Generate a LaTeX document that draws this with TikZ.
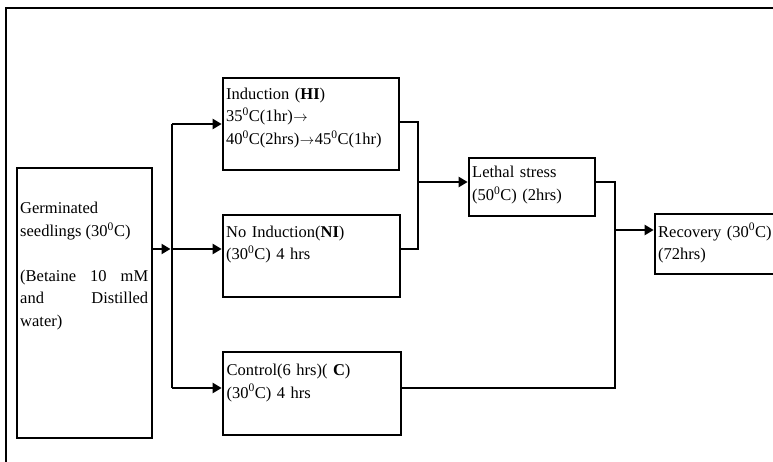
\documentclass[tikz,border=0pt]{standalone}
\usepackage{fontspec}
\setmainfont{Liberation Serif}
\usetikzlibrary{arrows.meta}
\newcommand{\rarr}{\kern0.5pt{\fontsize{14}{14}\selectfont$\rightarrow$}\kern0.5pt}
\tikzset{
  ln/.style={line width=2.7pt},
  arr/.style={ln, -{Triangle[length=9pt,width=10pt]}},
  box/.style={draw, line width=2.7pt, inner sep=0pt},
  txt/.style={inner sep=0pt, anchor=base west, text width=#1, align=left, font=\fontsize{16.5}{22.5}\selectfont},
  frame/.style={line width=1.8pt}
}
\begin{document}
\begin{tikzpicture}[x=1pt,y=-1pt]
\useasboundingbox (0,0) rectangle (773,462);
\clip (0,0) rectangle (773,462);
% outer frame
\draw[frame] (6,470) -- (6,8) -- (780,8);
% boxes
\node[box, minimum width=135pt, minimum height=270pt] (G) at (84.5,303) {};
\node[box, minimum width=176pt, minimum height=92pt] (HI) at (311,124) {};
\node[box, minimum width=177pt, minimum height=82pt] (NI) at (311.5,256) {};
\node[box, minimum width=178pt, minimum height=83pt] (C) at (312,393.5) {};
\node[box, minimum width=126pt, minimum height=58pt] (L) at (532,187) {};
\node[box, minimum width=135pt, minimum height=60pt] (R) at (722.5,244) {};
% texts
\node[txt=128pt, align=justify] (tG) at (20,214) {Germinated\\seedlings (30\textsuperscript{0}C)\\[22.5pt](Betaine 10 mM\linebreak and Distilled\linebreak water)};
\node[txt=172pt] (tHI) at (226,99.5) {Induction (\textbf{HI})\\35\textsuperscript{0}C(1hr)\rarr\\40\textsuperscript{0}C(2hrs)\rarr45\textsuperscript{0}C(1hr)};
\node[txt=172pt] (tNI) at (226,237) {No Induction(\textbf{NI})\\(30\textsuperscript{0}C) 4 hrs};
\node[txt=172pt] (tC) at (226.5,375.5) {Control(6 hrs)( \textbf{C})\\(30\textsuperscript{0}C) 4 hrs};
\node[txt=122pt] (tL) at (472,178) {Lethal stress\\(50\textsuperscript{0}C) (2hrs)};
\node[txt=120pt] (tR) at (658,237) {Recovery (30\textsuperscript{0}C)\\(72hrs)};
% junctions
\coordinate (jA) at (172,249);
\coordinate (jH) at (172,124);
\coordinate (jC) at (172,388);
\coordinate (jB) at (418,182);
\coordinate (jR) at (615,230);
\coordinate (cC) at (615,388);
% left distribution
\draw[ln] (jH) -- (jC);
\draw[arr, shorten >=1.5pt] (G.east |- jA) -- (jA);
\draw[arr] (jA) -- (NI.west |- jA);
\draw[arr] (jH) -- (HI.west |- jH);
\draw[arr] (jC) -- (C.west |- jC);
% to lethal stress
\draw[ln] (HI.east |- 0,122) -| (jB);
\draw[ln] (NI.east |- jA) -| (jB);
\draw[arr] (jB) -- (L.west |- jB);
% to recovery
\draw[ln] (L.east |- jB) -| (jR);
\draw[ln] (C.east |- cC) -- (cC) -- (jR);
\draw[arr] (jR) -- (R.west |- jR);
\end{tikzpicture}
\end{document}
